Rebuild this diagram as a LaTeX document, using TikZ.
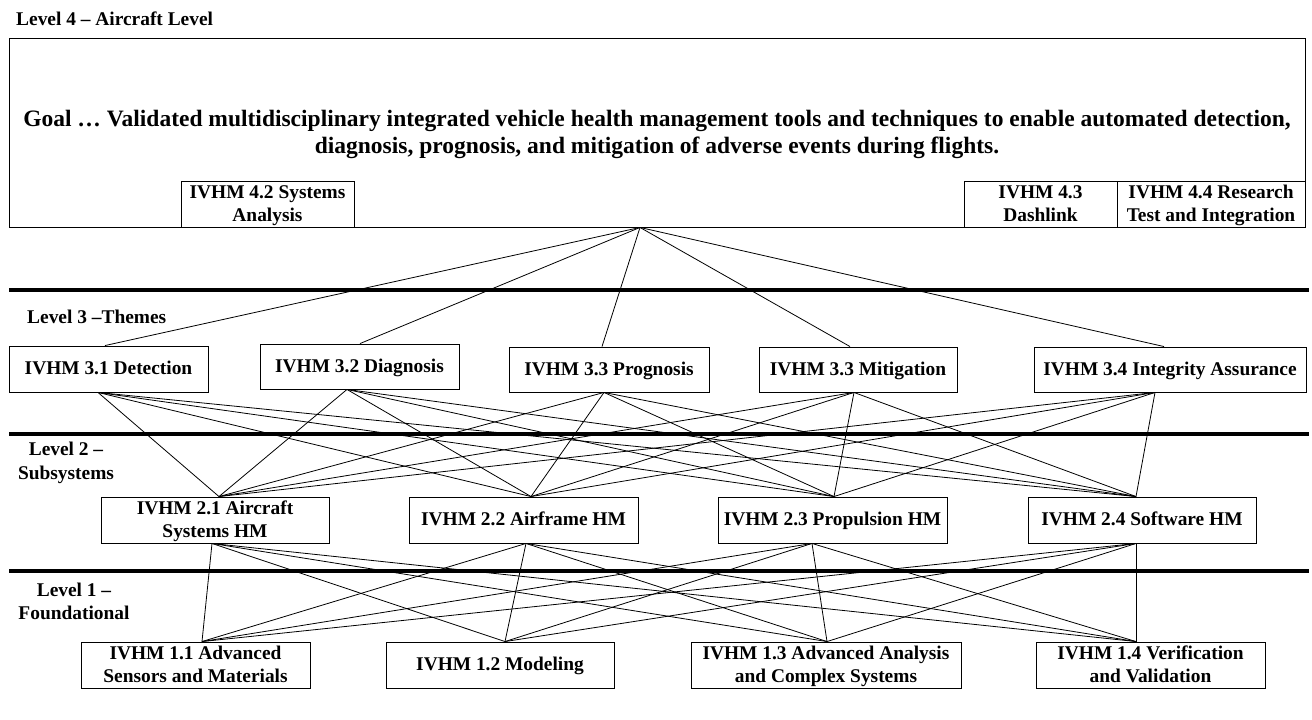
\documentclass[tikz,border=0pt]{standalone}
\usepackage{fontspec}
\setmainfont{Liberation Serif}
\newcommand{\ivboxfont}{\fontsize{19.4}{23.3}\selectfont\bfseries}
\newcommand{\ivgoalfont}{\fontsize{23.5}{27}\selectfont\bfseries}
% fixed height of the first line and depth of the last line in the boxes
\newcommand{\ivtop}{\rule{0pt}{16pt}}
\newcommand{\ivbot}{\rule[-4.5pt]{0pt}{4.5pt}}
\begin{document}
\begin{tikzpicture}[x=1pt,y=-1pt,
  box/.style={draw=black, line width=0.9pt, inner sep=0pt, align=center,
              font=\ivboxfont, fill=white,
              execute at begin node=\ivtop, execute at end node=\ivbot},
  lvl/.style={inner sep=0pt, align=center, font=\ivboxfont},
  link/.style={draw=black, line width=0.8pt},
  divider/.style={draw=black, line width=4.5pt}]
\useasboundingbox (0,0) rectangle (1312,720);

% level separators
\draw[divider] (9,290) -- (1309,290);
\draw[divider] (9,434) -- (1309,434);
\draw[divider] (9,571) -- (1309,571);

% level labels
\node[lvl, anchor=west] (l4) at (16,19) {Level 4 -- Aircraft Level};
\node[lvl, anchor=west] (l3) at (27,317) {Level 3 --Themes};
\node[lvl] (l2) at (66,463) {Level 2 --\\Subsystems};
\node[lvl] (l1) at (74,601.5) {Level 1 --\\Foundational};

% level 4
\node[box, minimum width=1296pt, minimum height=189pt] (goal) at (657,132.5) {};
\node[inner sep=0pt, align=center, font=\ivgoalfont] (goaltext) at (657,134.5)
  {Goal \dots\ Validated multidisciplinary integrated vehicle health management tools and techniques to enable automated detection,\\
   diagnosis, prognosis, and mitigation of adverse events during flights.};
\node[box, minimum width=173pt, minimum height=46pt] (b42) at (267.5,204)
  {\ivtop IVHM 4.2 Systems\\Analysis\ivbot};
\node[box, minimum width=153pt, minimum height=46pt] (b43) at (1040.5,204)
  {\ivtop IVHM 4.3\\Dashlink\ivbot};
\node[box, minimum width=188pt, minimum height=46pt] (b44) at (1211,204)
  {\ivtop IVHM 4.4 Research\\Test and Integration\ivbot};

% level 3
\node[box, minimum width=199pt, minimum height=46pt] (t31) at (108.5,369) {IVHM 3.1 Detection};
\node[box, minimum width=199pt, minimum height=45pt] (t32) at (359.5,366.5) {IVHM 3.2 Diagnosis};
\node[box, minimum width=200pt, minimum height=45pt] (t33) at (609,369.5) {IVHM 3.3 Prognosis};
\node[box, minimum width=198pt, minimum height=45pt] (t3m) at (858,369.5) {IVHM 3.3 Mitigation};
\node[box, minimum width=272pt, minimum height=45pt] (t34) at (1170,369.5) {IVHM 3.4 Integrity Assurance};

% level 2
\node[box, minimum width=228pt, minimum height=46pt] (s21) at (215,520) {\ivtop IVHM 2.1 Aircraft\\Systems HM\ivbot};
\node[box, minimum width=229pt, minimum height=46pt] (s22) at (523.5,520) {IVHM 2.2 Airframe HM};
\node[box, minimum width=229pt, minimum height=46pt] (s23) at (832.5,520) {IVHM 2.3 Propulsion HM};
\node[box, minimum width=228pt, minimum height=46pt] (s24) at (1142,520) {IVHM 2.4 Software HM};

% level 1
\node[box, minimum width=229pt, minimum height=46pt] (f11) at (195.5,665) {\ivtop IVHM 1.1 Advanced\\Sensors and Materials\ivbot};
\node[box, minimum width=228pt, minimum height=46pt] (f12) at (500,665) {IVHM 1.2 Modeling};
\node[box, minimum width=270pt, minimum height=46pt] (f13) at (826,665) {\ivtop IVHM 1.3 Advanced Analysis\\and Complex Systems\ivbot};
\node[box, minimum width=229pt, minimum height=46pt] (f14) at (1150.5,665) {\ivtop IVHM 1.4 Verification\\and Validation\ivbot};

% attachment points on the box edges
\coordinate (hub) at ([xshift=-17pt]goal.south);
\coordinate (t31t) at ([xshift=-3.5pt]t31.north);  \coordinate (t31b) at ([xshift=-10.5pt]t31.south);
\coordinate (t32t) at ([xshift=0.5pt]t32.north);   \coordinate (t32b) at ([xshift=-12.5pt]t32.south);
\coordinate (t33t) at ([xshift=-7pt]t33.north);    \coordinate (t33b) at ([xshift=-5pt]t33.south);
\coordinate (t3mt) at ([xshift=-8pt]t3m.north);    \coordinate (t3mb) at ([xshift=-4pt]t3m.south);
\coordinate (t34t) at ([xshift=-6pt]t34.north);    \coordinate (t34b) at ([xshift=-15pt]t34.south);
\coordinate (s21t) at ([xshift=4pt]s21.north);     \coordinate (s21b) at ([xshift=-3pt]s21.south);
\coordinate (s22t) at ([xshift=7.5pt]s22.north);   \coordinate (s22b) at ([xshift=2.5pt]s22.south);
\coordinate (s23t) at ([xshift=1.5pt]s23.north);   \coordinate (s23b) at ([xshift=-20.5pt]s23.south);
\coordinate (s24t) at ([xshift=-6pt]s24.north);    \coordinate (s24b) at ([xshift=-6pt]s24.south);
\coordinate (f11t) at ([xshift=6.5pt]f11.north);
\coordinate (f12t) at ([xshift=5pt]f12.north);
\coordinate (f13t) at ([xshift=1pt]f13.north);
\coordinate (f14t) at ([xshift=-14.5pt]f14.north);

% connectors
\foreach \t in {t31t,t32t,t33t,t3mt,t34t}
  \draw[link] (hub) -- (\t);
\foreach \a in {t31b,t32b,t33b,t3mb,t34b}
  \foreach \b in {s21t,s22t,s23t,s24t}
    \draw[link] (\a) -- (\b);
\foreach \a in {s21b,s22b,s23b,s24b}
  \foreach \b in {f11t,f12t,f13t,f14t}
    \draw[link] (\a) -- (\b);
\end{tikzpicture}
\end{document}
